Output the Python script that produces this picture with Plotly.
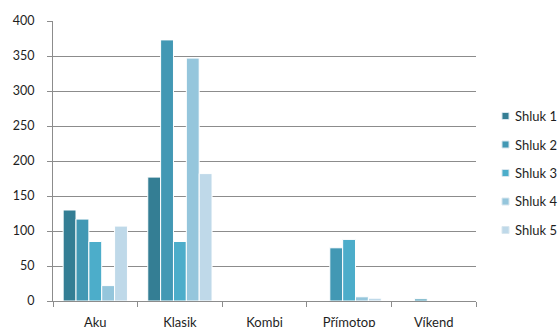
import plotly.graph_objects as go

# Heating types (categories) and cluster counts
categories = ["Aku", "Klasik", "Kombi", "Přímotop", "Víkend"]
series_names = ["Shluk 1", "Shluk 2", "Shluk 3", "Shluk 4", "Shluk 5"]
shluk_1 = [130, 177, 0, 0, 0]
shluk_2 = [117, 373, 0, 76, 3]
shluk_3 = [85, 85, 0, 88, 0]
shluk_4 = [22, 347, 0, 6, 0]
shluk_5 = [107, 182, 0, 4, 0]
y_ticks = [0, 50, 100, 150, 200, 250, 300, 350, 400]

values = [shluk_1, shluk_2, shluk_3, shluk_4, shluk_5]
colors = ["#347E94", "#4298B4", "#4CADCA", "#95C6DC", "#BFD9E9"]

font_family = "Lato, 'Noto Sans', sans-serif"
text_color = "#1e1e1e"

W, H = 558, 327
M_L, M_R, M_T, M_B = 53, 82, 21, 26
plot_w = W - M_L - M_R
plot_h = H - M_T - M_B

fig = go.Figure()
for name, vals, col in zip(series_names, values, colors):
    fig.add_trace(go.Bar(
        x=categories, y=vals, name=name,
        marker=dict(color=col, line=dict(color="white", width=1)),
        showlegend=False,
    ))

# Legend drawn by hand on the right: small square swatch + label
legend_top_px = 116
legend_step_px = 28.5
swatch_px = 7
swatch_cx = 505.5
text_x = 513
for i, (name, col) in enumerate(zip(series_names, colors)):
    cy = legend_top_px + i * legend_step_px
    x0 = (swatch_cx - swatch_px / 2 - M_L) / plot_w
    x1 = (swatch_cx + swatch_px / 2 - M_L) / plot_w
    y0 = (H - M_B - (cy + swatch_px / 2)) / plot_h
    y1 = (H - M_B - (cy - swatch_px / 2)) / plot_h
    fig.add_shape(type="rect", xref="paper", yref="paper",
                  x0=x0, x1=x1, y0=y0, y1=y1,
                  fillcolor=col, line=dict(color="#d8e6ee", width=1))
    fig.add_annotation(xref="paper", yref="paper",
                       x=(text_x - M_L) / plot_w, y=(H - M_B - cy) / plot_h,
                       xanchor="left", yanchor="middle", showarrow=False,
                       text=name, font=dict(size=13, color=text_color))

fig.update_layout(
    width=W, height=H,
    margin=dict(l=M_L, r=M_R, t=M_T, b=M_B),
    paper_bgcolor="white", plot_bgcolor="white",
    barmode="group", bargap=0.24, bargroupgap=0,
    font=dict(family=font_family, size=12, color=text_color),
    showlegend=False,
    xaxis=dict(
        showgrid=False, showline=True, linecolor="#8c8c8c", linewidth=1,
        ticks="outside", tickson="boundaries", ticklen=5, tickcolor="#8c8c8c",
        ticklabelstandoff=9, automargin=False,
        tickfont=dict(size=13, color=text_color),
    ),
    yaxis=dict(
        range=[0, 400], tickvals=y_ticks,
        showgrid=True, gridcolor="#8c8c8c", gridwidth=1,
        showline=True, linecolor="#8c8c8c", linewidth=1,
        ticks="outside", ticklen=5, tickcolor="#8c8c8c",
        ticklabelstandoff=10, automargin=False,
        tickfont=dict(size=12.5, color=text_color),
        zeroline=False,
    ),
)

fig.write_html("out.html")
